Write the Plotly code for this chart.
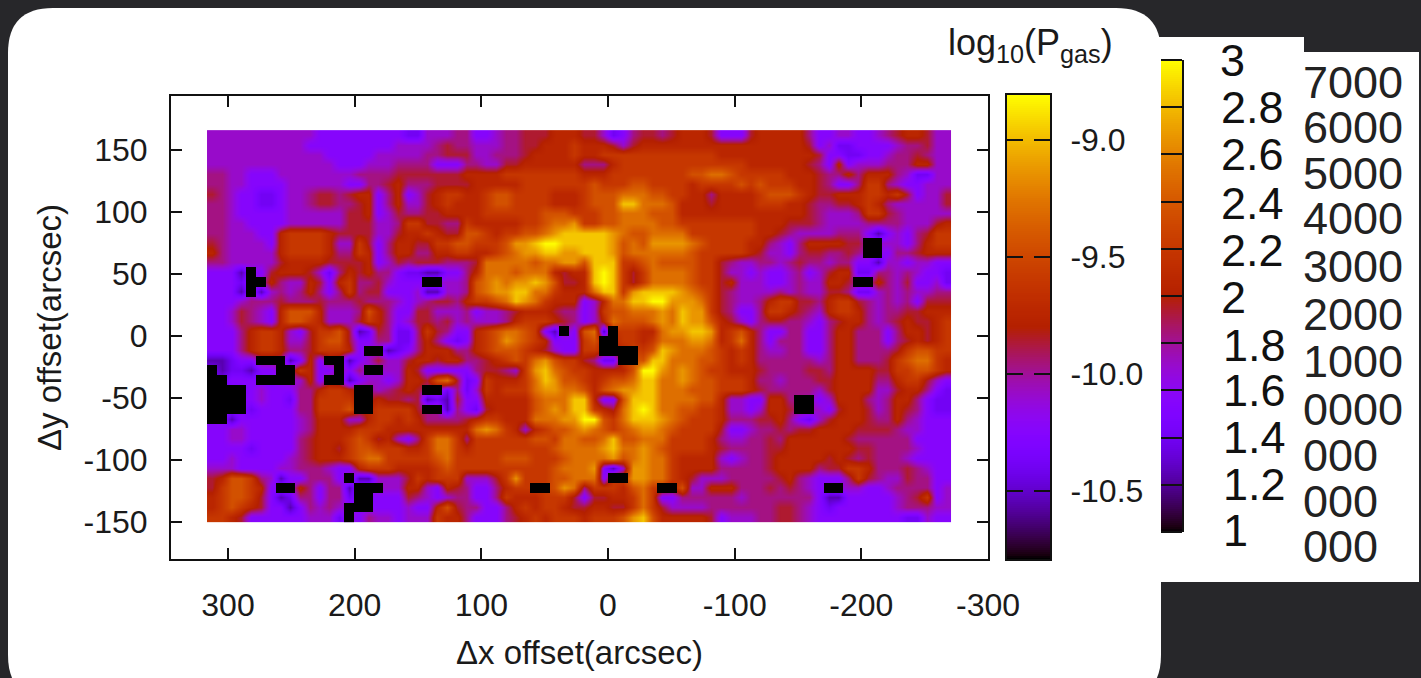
import math
import numpy as np
import plotly.graph_objects as go

W, H = 1421, 678

# Map of log10(Pgas): one character per cell, top row first.
LEVEL_CODES = "0123456789abcd"
LEVEL_VALUES = [-10.79, -10.55, -10.39, -10.25, -10.09, -9.97, -9.86,
                -9.74, -9.60, -9.44, -9.29, -9.13, -8.97, -8.81]
PGAS_ROWS = [
 "4444444444 4333333333 2244455334 55666777 6642356656 7776333677 7775334433 45677644",
 "4444444444 3333333334 4445655444 55667778 7776467777 7777777777 7776342233 33455644",
 "4444444444 4433333444 4455666445 55677778 7788888888 8888777777 7777633223 34556544",
 "4444444444 4443334445 5553335544 66777777 5557888888 8888888777 7776537344 45557744",
 "5544333444 4444455556 6666667777 88888888 7778888888 899aa98888 8777655757 77542244",
 "5544333344 4444335567 5556666777 77888888 8988899888 8788889898 8877653358 85433444",
 "6543322344 5665677357 3467887789 98888777 8999aaa998 8775777789 9987667778 87863446",
 "5543322344 5665567357 4467877789 98888777 8999ccaaa9 7776777788 8776556678 75444446",
 "5543333344 4444667346 5566777788 88889998 8899aaa999 7777777777 7776544458 86544444",
 "5544333344 4444666445 8866558777 77889aab 8899aaaa99 8888888877 7666544445 55544467",
 "5544433788 8876666446 7787669987 8899abcc cccba99aaa a888888877 6544445553 13435688",
 "6544443788 8874486357 7668899888 9bbcddcc cccb9a9bbb ba98888775 4357777660 04435788",
 "7544444788 8875587357 7557788778 9abbccbb cccb9aaaaa a988888764 4356655650 03556777",
 "5544444677 7766667346 5666555 6aa aaa9aabb 9ccc889a99 9988654455 4565545533 14434433",
 "3331036777 6425767553 22113357aa a9aaa767 7cdc868aaa a988644343 3453467722 55454332",
 "3332007544 7637855643 33004459ab abbcb966 7cdc868aaa a988674443 3454477600 75463342",
 "3331014545 7535856633 34114459ab bccaa877 7acc8bcccc ba98654444 5454466522 45454455",
 "3334555655 5655565554 3456657889 acba8777 347aaccddb bba8654457 8866578865 45453666",
 "3346543799 9744459753 3664445344 56777655 34899aaaba cbb8653358 8765478875 45566777",
 "3346543799 8744468753 4665645444 57888765 347a999aba cbb9764356 6554356775 45676678",
 "3335788743 6889612652 2586533789 aa983103 9a108877ab bccb789753 3553357755 53577678",
 "3335788744 6899633552 2575323789 ba987333 89008878aa abba78a753 5553357755 53567678",
 "3335788755 6888730012 3577755789 99876433 88000089cb aaa9878754 4553357755 55689988",
 "1123300013 7300134644 6776775567 898ab988 6522009cca aa99878755 5555457755 5689aa87",
 "0122133008 7330350044 7633333566 548bca98 877779ddba ba98877765 5556657777 66889987",
 "0033300004 7300134434 7769a62387 778acb99 87899accaa ba99888755 4555667777 55788643",
 "0000343335 5788700456 7600252487 888abbaa 979abbccaa a999888765 5555467777 44677532",
 "0000343325 5888800766 5612163377 7779aaac c7339cccaa aa99744337 7500347775 45775322",
 "0000233335 5888900888 8600153267 7779abac c876acdcaa 9988744347 7600436776 45765322",
 "0013333334 5777447887 8755556788 777aaabb dd98acccba 9888755566 7532467776 55754333",
 "3344333334 5777788877 7777777aba 8747899a ba989abba9 8888633455 6566777766 66544333",
 "3344333335 6777898674 358aa85888 888998aa 99ac99aaa8 8887544556 5777777655 55553333",
 "3333233335 6776899888 778aa87888 888889aa aabcaaba98 8887655556 6777777766 55554333",
 "3343333345 677789aa88 8889a88888 9998889a aaab9abaa8 7777434556 7777767656 55543333",
 "4443333445 5543378887 7778988888 888889aa ab314bbaa8 7777555556 7777566887 55565433",
 "6799854133 5553011444 6878884446 8b88899a aa300bbaa8 7644455555 6754333586 54465533",
 "6899873007 5355100044 7743765335 788009ba 5888 79a800 9447775556 5654300443 34555534",
 "7899863125 5355200333 6543455335 87778886 366778a833 5555554555 5555311333 33456834",
 "7898763313 5454000333 4337965533 57878876 677668a864 4445555555 6654323333 33455544",
 "8876333333 4442035443 4448775333 56787888 78889bc977 7776344455 6654333333 33322433",
]
X_FIRST, X_STEP = 312.7, -7.73
Y_FIRST, Y_STEP = 162.0, -7.9

X_TICKS = [300, 200, 100, 0, -100, -200, -300]
Y_TICKS = [150, 100, 50, 0, -50, -100, -150]
X_LABELS = ["300", "200", "100", "0", "-100", "-200", "-300"]
Y_LABELS = ["150", "100", "50", "0", "-50", "-100", "-150"]
CB_TICKS = [-10.5, -10.0, -9.5, -9.0]
CB_LABELS = ["-10.5", "-10.0", "-9.5", "-9.0"]
CB2_TICKS = [1.2, 1.4, 1.6, 1.8, 2.0, 2.2, 2.4, 2.6, 2.8]
CB2_LABELS = ["3", "2.8", "2.6", "2.4", "2.2", "2", "1.8", "1.6", "1.4", "1.2", "1"]
CB2_LABEL_Y = [61, 107, 155, 203, 251, 297, 345, 390, 437, 484, 530]
CB2_LABEL_X = [1218, 1219, 1219, 1219, 1219, 1219, 1221, 1221, 1221, 1221, 1221]
COL3_LABELS = ["7000", "6000", "5000", "4000", "3000", "2000", "1000", "0000", "000", "000", "000"]
COL3_LABEL_Y = [82, 127, 173, 219, 266, 315, 361, 409, 455, 501, 546]

FONT = "Liberation Sans"
z = []
for row in PGAS_ROWS:
    s = row.replace(" ", "")
    s = (s + s[-1] * 76)[:76]
    z.append([LEVEL_VALUES[LEVEL_CODES.index(c)] for c in s])

# Saturated (black) cells are drawn crisp on top; under them the smooth layer
# takes the mean of the surrounding cells so no ring appears around them.
BLACK = LEVEL_VALUES[0]
z_smooth = [list(r) for r in z]
z_black = [[BLACK if v == BLACK else None for v in r] for r in z]
for j, r in enumerate(z):
    for i, v in enumerate(r):
        if v == BLACK:
            around = [z[b][a] for b in range(max(j - 2, 0), min(j + 3, len(z)))
                      for a in range(max(i - 2, 0), min(i + 3, 76)) if z[b][a] != BLACK]
            z_smooth[j][i] = sum(around) / len(around) if around else -10.3


def palette(t):
    r = math.sqrt(t)
    g = t ** 3
    b = max(0.0, math.sin(2 * math.pi * t))
    return f"rgb({round(255*r)},{round(255*g)},{round(255*b)})"


SCALE = [[i / 100, palette(i / 100)] for i in range(101)]
ZMIN, ZMAX = LEVEL_VALUES[0], LEVEL_VALUES[-1]


def px(x):
    return x / W


def py(y):
    return 1 - y / H


def rrect(x0, y0, x1, y1, r):
    return (f"M {px(x0+r)} {py(y0)} L {px(x1-r)} {py(y0)} Q {px(x1)} {py(y0)} {px(x1)} {py(y0+r)} "
            f"L {px(x1)} {py(y1-r)} Q {px(x1)} {py(y1)} {px(x1-r)} {py(y1)} "
            f"L {px(x0+r)} {py(y1)} Q {px(x0)} {py(y1)} {px(x0)} {py(y1-r)} "
            f"L {px(x0)} {py(y0+r)} Q {px(x0)} {py(y0)} {px(x0+r)} {py(y0)} Z")


fig = go.Figure()
fig.add_trace(go.Heatmap(z=z_smooth, x0=X_FIRST, dx=X_STEP, y0=Y_FIRST, dy=Y_STEP,
                         colorscale=SCALE, zmin=ZMIN, zmax=ZMAX, showscale=False,
                         zsmooth="best", xaxis="x", yaxis="y"))
fig.add_trace(go.Heatmap(z=z_black, x0=X_FIRST, dx=X_STEP, y0=Y_FIRST, dy=Y_STEP,
                         colorscale=SCALE, zmin=ZMIN, zmax=ZMAX, showscale=False,
                         hoverongaps=False, xaxis="x", yaxis="y"))

ramp = np.linspace(ZMIN, ZMAX, 232)
fig.add_trace(go.Heatmap(z=[[v] for v in ramp], x=[0], y=ramp.tolist(), colorscale=SCALE,
                         zmin=ZMIN, zmax=ZMAX, showscale=False, xaxis="x2", yaxis="y2"))
ramp2 = np.linspace(1, 3, 236)
fig.add_trace(go.Heatmap(z=[[v] for v in ramp2], x=[0], y=ramp2.tolist(), colorscale=SCALE,
                         zmin=1, zmax=3, showscale=False, xaxis="x3", yaxis="y3"))

axis_common = dict(showgrid=False, zeroline=False, showline=True, linecolor="#111", linewidth=2,
                   ticks="inside", tickcolor="#111", tickwidth=2, mirror="allticks",
                   tickfont=dict(family=FONT, size=32, color="#1a1a1a"))

shapes = [
    dict(type="path", xref="paper", yref="paper", layer="below", path=rrect(1100, 37, 1304, 582, 0),
         fillcolor="white", line_width=0),
    dict(type="path", xref="paper", yref="paper", layer="below", path=rrect(1290, 52, 1419, 582, 0),
         fillcolor="white", line_width=0),
    dict(type="path", xref="paper", yref="paper", layer="below", path=rrect(8, 8, 1161, 700, 45),
         fillcolor="white", line_width=0),
    dict(type="line", xref="paper", yref="paper", x0=px(1161), x1=px(1182), y0=py(60), y1=py(60),
         line=dict(color="#111", width=2)),
    dict(type="line", xref="paper", yref="paper", x0=px(1161), x1=px(1182), y0=py(532), y1=py(532),
         line=dict(color="#111", width=2)),
]

annotations = [
    dict(text="log<sub>10</sub>(P<sub>gas</sub>)", x=px(1115), y=py(45), xref="paper", yref="paper",
         xanchor="right", yanchor="middle", showarrow=False,
         font=dict(family=FONT, size=36, color="#1a1a1a")),
]
for t, x, y in zip(CB2_LABELS, CB2_LABEL_X, CB2_LABEL_Y):
    annotations.append(dict(text=t, x=px(x), y=py(y), xref="paper", yref="paper", xanchor="left",
                            yanchor="middle", showarrow=False,
                            font=dict(family=FONT, size=45, color="#111")))
for t, y in zip(COL3_LABELS, COL3_LABEL_Y):
    annotations.append(dict(text=t, x=px(1301), y=py(y), xref="paper", yref="paper", xanchor="left",
                            yanchor="middle", showarrow=False,
                            font=dict(family=FONT, size=45, color="#222")))

fig.update_layout(
    width=W, height=H, margin=dict(l=0, r=0, t=0, b=0, autoexpand=False),
    paper_bgcolor="#27272a", plot_bgcolor="rgba(0,0,0,0)", showlegend=False,
    shapes=shapes, annotations=annotations,
    xaxis=dict(domain=[px(171), px(988)], range=[345, -300], tickvals=X_TICKS, ticktext=X_LABELS,
               ticklen=11, ticklabelstandoff=17, anchor="y",
               title=dict(text="Δx offset(arcsec)", standoff=18, font=dict(family=FONT, size=33, color="#1a1a1a")),
               **axis_common),
    yaxis=dict(domain=[py(559), py(96)], range=[-180, 193.5], tickvals=Y_TICKS, ticktext=Y_LABELS,
               ticklen=11, ticklabelstandoff=15, anchor="x",
               title=dict(text="Δy offset(arcsec)", standoff=12, font=dict(family=FONT, size=33, color="#1a1a1a")),
               **axis_common),
    xaxis2=dict(domain=[px(1007), px(1050)], range=[-0.5, 0.5], showticklabels=False, ticks="",
                showline=True, linecolor="#111", linewidth=2, mirror=True, showgrid=False,
                zeroline=False, anchor="y2"),
    yaxis2=dict(domain=[py(559), py(95)], range=[ZMIN, ZMAX], side="right", anchor="x2",
                tickvals=CB_TICKS, ticktext=CB_LABELS, ticklen=16, ticklabelstandoff=12,
                **axis_common),
    xaxis3=dict(domain=[px(1161), px(1182)], range=[-0.5, 0.5], showticklabels=False, ticks="",
                showline=False, showgrid=False, zeroline=False, anchor="y3"),
    yaxis3=dict(domain=[py(532), py(60)], range=[1, 3], side="right", anchor="x3",
                tickvals=CB2_TICKS, ticks="inside", ticklen=21, tickwidth=2, tickcolor="#111",
                showticklabels=False, showgrid=False, zeroline=False,
                showline=True, linecolor="#111", linewidth=2),
)

fig.write_html("out.html", config={"displayModeBar": False},
               post_script="document.body.style.margin='0';document.body.style.overflow='hidden';")
